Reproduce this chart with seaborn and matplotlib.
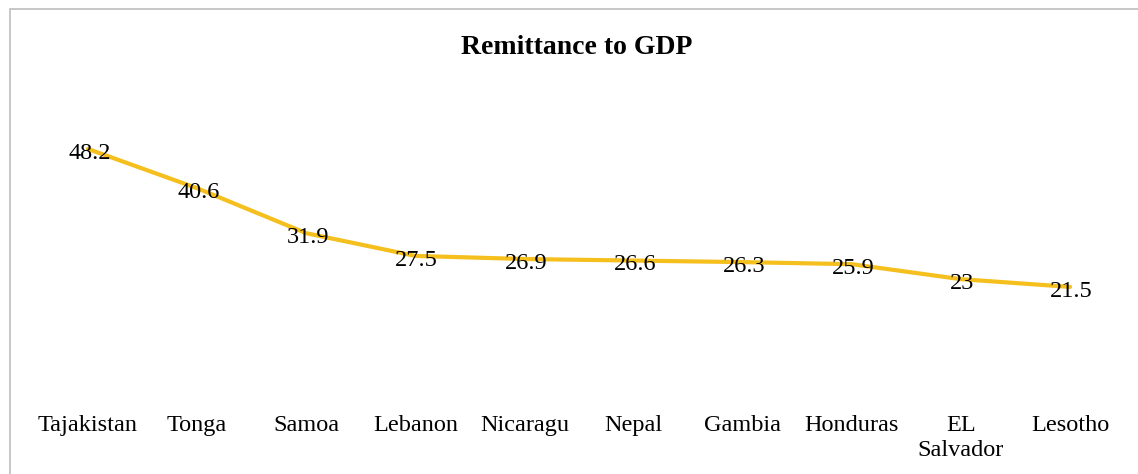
import matplotlib
matplotlib.use("Agg")
import matplotlib.pyplot as plt
import seaborn as sns
import pandas as pd
from matplotlib.patches import Rectangle

countries = ["Tajakistan", "Tonga", "Samoa", "Lebanon", "Nicaragu",
             "Nepal", "Gambia", "Honduras", "EL\nSalvador", "Lesotho"]
remittance_pct_gdp = [48.2, 40.6, 31.9, 27.5, 26.9, 26.6, 26.3, 25.9, 23, 21.5]
value_labels = ["48.2", "40.6", "31.9", "27.5", "26.9", "26.6", "26.3", "25.9", "23", "21.5"]

sns.set_style("white")
plt.rcParams["font.family"] = ["Liberation Serif", "DejaVu Serif"]

W, H = 1138, 474
fig = plt.figure(figsize=(W / 100, H / 100), dpi=100)

# chart frame (light grey border)
fig.patches.append(Rectangle((10 / W, -0.05), 1.2, (H - 9) / H + 0.05,
                             transform=fig.transFigure, fill=False,
                             edgecolor="#BDBDBD", linewidth=1.2))

left, right = 33.4, 1124.6
bottom_px, top_px = 398, 88
ax = fig.add_axes([left / W, (H - bottom_px) / H,
                   (right - left) / W, (bottom_px - top_px) / H])

df = pd.DataFrame({"country": countries, "value": remittance_pct_gdp})
df["pos"] = range(len(df))
sns.lineplot(data=df, x="pos", y="value", ax=ax, color="#F5BF1E",
             linewidth=3.0, sort=False)

for x, v, lab in zip(df["pos"], remittance_pct_gdp, value_labels):
    ax.annotate(lab, (x, v), xytext=(1, -3), textcoords="offset points",
                ha="center", va="center", fontsize=17.5, color="black")

ax.set_xlim(-0.5, len(countries) - 0.5)
ax.set_ylim(0, 60)
ax.set_xticks(range(len(countries)))
ax.set_xticklabels(countries, fontsize=17.5, linespacing=1.3, color="black")
ax.tick_params(axis="x", length=0, pad=12)
ax.set_yticks([])
ax.set_xlabel("")
ax.set_ylabel("")
for s in ax.spines.values():
    s.set_visible(False)
ax.patch.set_alpha(0)

fig.text(577 / W, 1 - 47 / H, "Remittance to GDP", ha="center", va="center",
         fontsize=20, fontweight="bold", color="black")

fig.savefig("out.png", dpi=100)
